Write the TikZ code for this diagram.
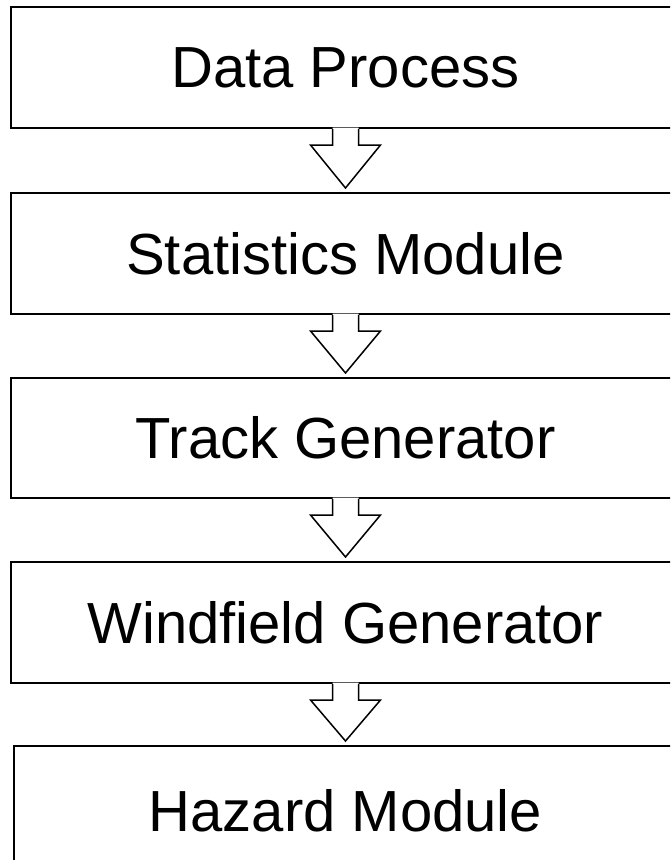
\documentclass[tikz,border=0pt]{standalone}
\usepackage{fontspec}
\setmainfont{Liberation Sans}
\usetikzlibrary{calc}
\begin{document}
\begin{tikzpicture}[x=1pt,y=-1pt,
  stage/.style={draw=black, line width=2pt, inner sep=0pt,
    minimum width=669pt, minimum height=121pt,
    font=\fontsize{58}{62}\selectfont},
  flowline/.style={draw=black, line width=1.5pt, line join=miter}]
\useasboundingbox (0,0) rectangle (670,860);
\clip (0,0) rectangle (670,860);

% processing stages, top to bottom
\node[stage] (dp) at (345.5,67.5) {Data Process};
\node[stage] (sm) at (345.5,253.5) {Statistics Module};
\node[stage, minimum height=120pt] (tg) at (345.5,438) {Track Generator};
\node[stage] (wg) at (345.5,622.5) {Windfield Generator};
\node[stage, minimum width=663pt, minimum height=130pt] (hm) at (345.5,811) {Hazard Module};

% hollow block arrows between consecutive stages
\foreach \a/\b in {dp/sm, sm/tg, tg/wg, wg/hm} {
  \coordinate (top) at (\a.south);
  \coordinate (tip) at ($(\b.north)+(0,-4)$);
  \fill[white] ($(top)+(-13,-1.5)$) -- ($(top)+(-13,16)$) -- ($(top)+(-35,16)$)
    -- (tip) -- ($(top)+(35,16)$) -- ($(top)+(13,16)$) -- ($(top)+(13,-1.5)$) -- cycle;
  \draw[flowline] ($(top)+(-13,0)$) -- ($(top)+(-13,16)$) -- ($(top)+(-35,16)$)
    -- (tip) -- ($(top)+(35,16)$) -- ($(top)+(13,16)$) -- ($(top)+(13,0)$);
}
\end{tikzpicture}
\end{document}
